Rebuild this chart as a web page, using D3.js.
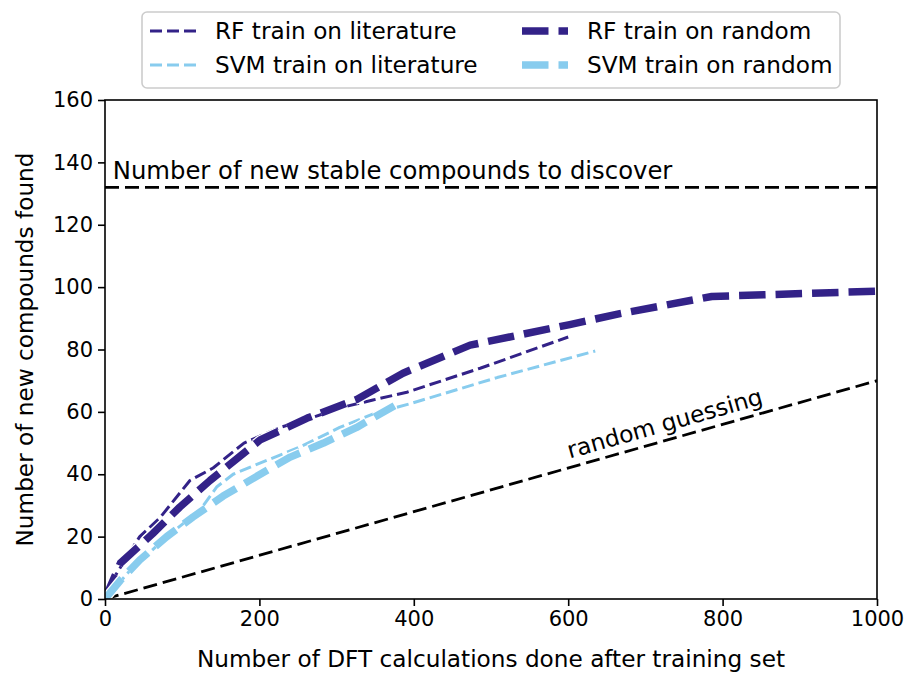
<!DOCTYPE html>
<html>
<head>
<meta charset="utf-8">
<script src="https://cdn.jsdelivr.net/npm/d3@7"></script>
<style>
  html, body { margin: 0; padding: 0; background: #fff; }
  svg { display: block; font-family: "DejaVu Sans", sans-serif; }
</style>
</head>
<body>
<svg id="chart" width="909" height="673"></svg>
<script>
// Discovery curves: new stable compounds found vs. DFT calculations done
const rfLitX = [0, 12, 45, 71, 110, 140, 180, 227, 266, 308, 347, 391, 486, 600];
const rfLitY = [0, 7, 20, 26, 38, 42, 50, 55, 58, 61.5, 63.8, 66.3, 74, 84];

const svmLitX = [0, 30, 80, 123, 145, 166, 210, 252, 304, 350, 395, 508, 635];
const svmLitY = [0, 8.5, 20, 28.5, 36, 40, 44.5, 48.7, 55, 59.6, 62.6, 71, 79.5];

const rfRandX = [0, 20, 62, 97, 136, 201, 262, 326, 386, 473, 602, 667, 786, 1000];
const rfRandY = [0, 11.5, 21, 29.5, 38, 51, 58, 64, 72.4, 81.4, 88, 91.5, 97, 98.7];

const svmRandX = [0, 20, 45, 80, 114, 153, 210, 240, 283, 326, 375];
const svmRandY = [0, 6, 12.5, 20, 26.3, 33, 41.3, 45.5, 50, 55, 62];

const guessX = [0, 1000];
const guessY = [0, 70];

const targetCount = 132;

const xTicks = [0, 200, 400, 600, 800, 1000];
const yTicks = [0, 20, 40, 60, 80, 100, 120, 140, 160];

const series = [
  { name: "RF train on literature", xs: rfLitX, ys: rfLitY, color: "#332288", width: 3, dash: "12,5" },
  { name: "SVM train on literature", xs: svmLitX, ys: svmLitY, color: "#88CCEE", width: 3, dash: "12,5" },
  { name: "RF train on random", xs: rfRandX, ys: rfRandY, color: "#332288", width: 7.5, dash: "26.5,10" },
  { name: "SVM train on random", xs: svmRandX, ys: svmRandY, color: "#88CCEE", width: 7.5, dash: "26.5,10" }
];

const margin = { left: 105, right: 909 - 877, top: 100, bottom: 673 - 599 };
const W = 909, H = 673;
const svg = d3.select("#chart");

const x = d3.scaleLinear().domain([0, 1000]).range([margin.left, W - margin.right]);
const y = d3.scaleLinear().domain([0, 160]).range([H - margin.bottom, margin.top]);

const line = d3.line().x(d => x(d[0])).y(d => y(d[1]));

const plot = svg.append("g");
const clipId = "plotclip";
svg.append("clipPath").attr("id", clipId).append("rect")
  .attr("x", x(0)).attr("y", y(160)).attr("width", x(1000) - x(0)).attr("height", y(0) - y(160));
plot.attr("clip-path", `url(#${clipId})`);

// Target: all new stable compounds
plot.append("path")
  .attr("d", line([[0, targetCount], [1000, targetCount]]))
  .attr("fill", "none").attr("stroke", "#000").attr("stroke-width", 2.8)
  .attr("stroke-dasharray", "14,6");

// Random-guessing baseline
plot.append("path")
  .attr("d", line(guessX.map((v, i) => [v, guessY[i]])))
  .attr("fill", "none").attr("stroke", "#000").attr("stroke-width", 2.8)
  .attr("stroke-dasharray", "14,6");

// Model curves, each with a thin white halo
series.forEach(s => {
  const pts = s.xs.map((v, i) => [v, s.ys[i]]);
  plot.append("path").attr("d", line(pts))
    .attr("fill", "none").attr("stroke", "#fff").attr("stroke-width", s.width + 2.5)
    .attr("stroke-dasharray", s.dash).attr("stroke-linejoin", "round");
  plot.append("path").attr("d", line(pts))
    .attr("fill", "none").attr("stroke", s.color).attr("stroke-width", s.width)
    .attr("stroke-dasharray", s.dash).attr("stroke-linejoin", "round");
});

// Axes
const tickSize = 21;
const labelSize = 23.2;
const xAxis = svg.append("g").attr("transform", `translate(0,${y(0)})`)
  .call(d3.axisBottom(x).tickValues(xTicks).tickSize(7).tickPadding(5).tickFormat(d3.format("d")));
const yAxis = svg.append("g").attr("transform", `translate(${x(0)},0)`)
  .call(d3.axisLeft(y).tickValues(yTicks).tickSize(7).tickPadding(5).tickFormat(d3.format("d")));
[xAxis, yAxis].forEach(g => {
  g.select(".domain").remove();
  g.selectAll(".tick line").attr("stroke", "#000").attr("stroke-width", 1.6);
  g.selectAll(".tick text").attr("font-size", tickSize).attr("fill", "#000")
    .attr("font-family", "DejaVu Sans");
});

// Frame
svg.append("rect")
  .attr("x", x(0)).attr("y", y(160)).attr("width", x(1000) - x(0)).attr("height", y(0) - y(160))
  .attr("fill", "none").attr("stroke", "#000").attr("stroke-width", 1.6);

// Axis titles
svg.append("text")
  .attr("x", (x(0) + x(1000)) / 2).attr("y", 667)
  .attr("text-anchor", "middle").attr("font-size", labelSize)
  .text("Number of DFT calculations done after training set");
svg.append("text")
  .attr("transform", `translate(33,${(y(0) + y(160)) / 2}) rotate(-90)`)
  .attr("text-anchor", "middle").attr("font-size", labelSize)
  .text("Number of new compounds found");

// Annotations
svg.append("text")
  .attr("x", x(10)).attr("y", y(targetCount) - 8)
  .attr("font-size", 24.3)
  .text("Number of new stable compounds to discover");

const angle = Math.atan2(y(guessY[1]) - y(guessY[0]), x(guessX[1]) - x(guessX[0])) * 180 / Math.PI;
const ax = 602, ay = 70 * ax / 1000;
svg.append("text")
  .attr("transform", `translate(${x(ax)},${y(ay) - 9}) rotate(${angle})`)
  .attr("font-size", 23.3)
  .text("random guessing");

// Legend
const legend = svg.append("g");
legend.append("rect")
  .attr("x", 142).attr("y", 12).attr("width", 698).attr("height", 76).attr("rx", 5)
  .attr("fill", "#fff").attr("fill-opacity", 0.8).attr("stroke", "#cccccc").attr("stroke-width", 1.6);
const legPos = [
  { hx: 150, tx: 215, cy: 31 },
  { hx: 150, tx: 215, cy: 65 },
  { hx: 522, tx: 587, cy: 31 },
  { hx: 522, tx: 587, cy: 65 }
];
series.forEach((s, i) => {
  const p = legPos[i];
  legend.append("line")
    .attr("x1", p.hx).attr("x2", p.hx + 46).attr("y1", p.cy).attr("y2", p.cy)
    .attr("stroke", s.color).attr("stroke-width", s.width).attr("stroke-dasharray", s.dash);
  legend.append("text")
    .attr("x", p.tx).attr("y", p.cy).attr("dy", "0.35em")
    .attr("font-size", labelSize)
    .text(s.name);
});
</script>
</body>
</html>
